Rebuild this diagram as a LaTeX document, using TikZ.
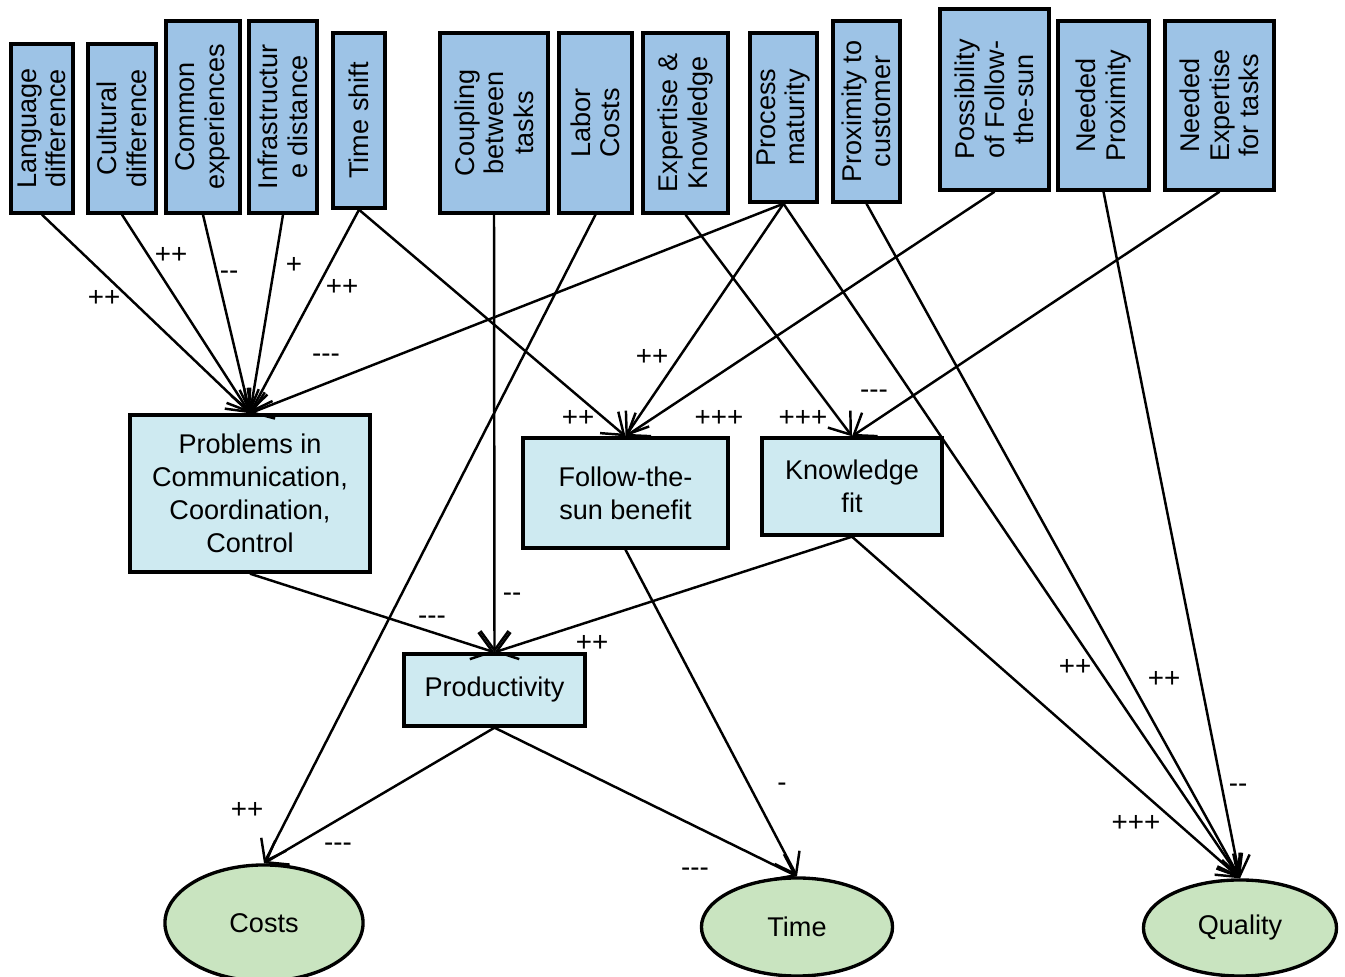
\documentclass[tikz,border=0pt]{standalone}
\usepackage{fontspec}
\setmainfont{Liberation Sans}
\usetikzlibrary{arrows.meta,shapes.geometric}
\definecolor{topblue}{RGB}{157,195,230}
\definecolor{midcyan}{RGB}{206,234,241}
\definecolor{outgreen}{RGB}{201,228,192}
\newcommand{\mtwo}{-\kern0pt-}
\newcommand{\mthree}{-\kern0pt-\kern0pt-}
\begin{document}
\begin{tikzpicture}[x=0.01cm,y=-0.01cm,
  topbox/.style={draw, line width=0.95pt, fill=topblue, inner sep=0pt},
  toptext/.style={rotate=90, align=center, font=\fontsize{7.7}{8.4}\selectfont, inner sep=0pt},
  midbox/.style={draw, line width=0.95pt, fill=midcyan, inner sep=0pt, align=center, font=\fontsize{7.7}{9.4}\selectfont},
  outc/.style={draw, ellipse, line width=0.95pt, fill=outgreen, inner sep=0pt, font=\fontsize{7.7}{9.4}\selectfont},
  lab/.style={font=\fontsize{7.9}{9}\selectfont, inner sep=0pt},
  conn/.style={line width=0.7pt, -{Straight Barb[length=5.5pt,width=8pt]}},
]
\useasboundingbox (0,0) rectangle (1345,977);

% top boxes
\node[topbox, minimum width=0.62cm, minimum height=1.69cm] (lang) at (42,128.5) {};
\node[toptext] (lang-t) at (lang.center) {Language\\difference};
\node[topbox, minimum width=0.68cm, minimum height=1.69cm] (cult) at (122,128.5) {};
\node[toptext] (cult-t) at (cult.center) {Cultural\\difference};
\node[topbox, minimum width=0.74cm, minimum height=1.92cm] (comm) at (203,117) {};
\node[toptext] (comm-t) at (comm.center) {Common\\experiences};
\node[topbox, minimum width=0.68cm, minimum height=1.92cm] (infra) at (283,117) {};
\node[toptext] (infra-t) at (infra.center) {Infrastructur\\e distance};
\node[topbox, minimum width=0.52cm, minimum height=1.75cm] (tshift) at (359,120.5) {};
\node[toptext] (tshift-t) at (tshift.center) {Time shift};
\node[topbox, minimum width=1.08cm, minimum height=1.80cm] (coup) at (494,123) {};
\node[toptext] (coup-t) at (coup.center) {Coupling\\between\\tasks};
\node[topbox, minimum width=0.73cm, minimum height=1.80cm] (labor) at (595.5,123) {};
\node[toptext] (labor-t) at (labor.center) {Labor\\Costs};
\node[topbox, minimum width=0.85cm, minimum height=1.80cm] (expert) at (685.5,123) {};
\node[toptext] (expert-t) at (expert.center) {Expertise \&\\Knowledge};
\node[topbox, minimum width=0.67cm, minimum height=1.69cm] (proc) at (783.5,117.5) {};
\node[toptext] (proc-t) at (proc.center) {Process\\maturity};
\node[topbox, minimum width=0.67cm, minimum height=1.81cm] (prox) at (866.5,111.5) {};
\node[toptext] (prox-t) at (prox.center) {Proximity to\\customer};
\node[topbox, minimum width=1.09cm, minimum height=1.81cm] (poss) at (994.5,99.5) {};
\node[toptext] (poss-t) at (poss.center) {Possibility\\of Follow-\\the-sun};
\node[topbox, minimum width=0.91cm, minimum height=1.69cm] (nprox) at (1103.5,105.5) {};
\node[toptext] (nprox-t) at (nprox.center) {Needed\\Proximity};
\node[topbox, minimum width=1.09cm, minimum height=1.69cm] (nexp) at (1219.5,105.5) {};
\node[toptext] (nexp-t) at (nexp.center) {Needed\\Expertise\\for tasks};

% middle boxes
\node[midbox, minimum width=2.40cm, minimum height=1.57cm] (prob) at (250,493.5) {Problems in\\Communication,\\Coordination,\\Control};
\node[midbox, minimum width=2.05cm, minimum height=1.10cm] (fts) at (625.5,493) {Follow-the-\\sun benefit};
\node[midbox, minimum width=1.80cm, minimum height=0.97cm] (kfit) at (852,486.5) {Knowledge\\fit};
\node[midbox, minimum width=1.81cm, minimum height=0.72cm] (prod) at (494.5,690) {Productivity};

% outcomes
\node[outc, minimum width=1.98cm, minimum height=1.16cm] (costs) at (264,923) {Costs};
\node[outc, minimum width=1.91cm, minimum height=0.98cm] (time) at (797,927) {Time};
\node[outc, minimum width=1.93cm, minimum height=0.96cm] (qual) at (1240,928) {Quality};

% connectors
\draw[conn] (lang.south) -- (prob.north);
\draw[conn] (cult.south) -- (prob.north);
\draw[conn] (comm.south) -- (prob.north);
\draw[conn] (infra.south) -- (prob.north);
\draw[conn] (tshift.south) -- (prob.north);
\draw[conn] (proc.south) -- (prob.north);
\draw[conn] (tshift.south) -- (fts.north);
\draw[conn] (proc.south) -- (fts.north);
\draw[conn] (poss.south) -- (fts.north);
\draw[conn] (expert.south) -- (kfit.north);
\draw[conn] (nexp.south) -- (kfit.north);
\draw[conn] (coup.south) -- (prod.north);
\draw[conn] (prob.south) -- (prod.north);
\draw[conn] (kfit.south) -- (prod.north);
\draw[conn] (labor.south) -- (costs.north);
\draw[conn] (prod.south) -- (costs.north);
\draw[conn] (prod.south) -- (time.north);
\draw[conn] (fts.south) -- (time.north);
\draw[conn] (kfit.south) -- (qual.north);
\draw[conn] (proc.south) -- (qual.north);
\draw[conn] (prox.south) -- (qual.north);
\draw[conn] (nprox.south) -- (qual.north);

% labels
\node[lab] (l1) at (104,298) {++};
\node[lab] (l2) at (171,255) {++};
\node[lab] (l3) at (229,275) {\mtwo};
\node[lab] (l4) at (294,265) {+};
\node[lab] (l5) at (342,287) {++};
\node[lab] (l6) at (326,358) {\mthree};
\node[lab] (l7) at (652,357) {++};
\node[lab] (l8) at (578,418) {++};
\node[lab] (l9) at (719,418) {+++};
\node[lab] (l10) at (803,418) {+++};
\node[lab] (l11) at (874,394) {\mthree};
\node[lab] (l12) at (512,597) {\mtwo};
\node[lab] (l13) at (432,620) {\mthree};
\node[lab] (l14) at (592,643) {++};
\node[lab] (l15) at (247,810) {++};
\node[lab] (l16) at (338,847) {\mthree};
\node[lab] (l17) at (695,872) {\mthree};
\node[lab] (l18) at (782,787) {-};
\node[lab] (l19) at (1075,667) {++};
\node[lab] (l20) at (1164,679) {++};
\node[lab] (l21) at (1136,823) {+++};
\node[lab] (l22) at (1238,788) {\mtwo};
\end{tikzpicture}
\end{document}
